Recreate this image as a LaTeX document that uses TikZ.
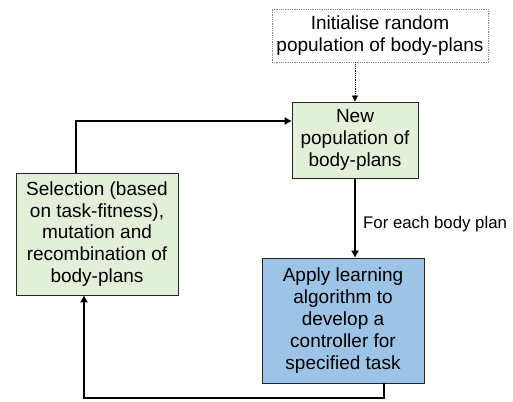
\documentclass[tikz,border=0pt]{standalone}
\usepackage{fontspec}
\setmainfont{Liberation Sans}
\usetikzlibrary{arrows.meta}
\definecolor{boxgreen}{HTML}{E2EFD9}
\definecolor{boxblue}{HTML}{9DC3E6}
\definecolor{dotgrey}{HTML}{8C8C8C}
\tikzset{
  boxtext/.style={align=center, font=\fontsize{19}{21.8}\selectfont, inner sep=0pt},
  greenbox/.style={boxtext, draw=black!85, line width=0.9pt, fill=boxgreen},
  bluebox/.style={boxtext, draw=black!85, line width=0.9pt, fill=boxblue},
  initbox/.style={boxtext, draw=dotgrey, densely dotted, line width=0.8pt},
  mainarrow/.style={line width=2.8pt, -{Triangle[length=7pt,width=7pt]}},
  thinarrow/.style={line width=0.8pt, densely dotted, -{Triangle[length=6pt,width=6pt]}},
  lbl/.style={font=\fontsize{16.8}{19}\selectfont, inner sep=0pt, anchor=west}
}
\begin{document}
\begin{tikzpicture}[x=1pt,y=-1pt]
\useasboundingbox (0,0) rectangle (513,401);
\node[initbox, minimum width=216pt, minimum height=53pt] (init) at (380,35.5)
  {Initialise random\\population of body-plans};
\node[greenbox, minimum width=126pt, minimum height=76pt] (newpop) at (355,140)
  {New\\population of\\body-plans};
\node[greenbox, minimum width=162pt, minimum height=122pt] (sel) at (97,234)
  {Selection (based\\on task-fitness),\\mutation and\\recombination of\\body-plans};
\node[bluebox, minimum width=162pt, minimum height=125pt] (apply) at (343,320.5)
  {Apply learning\\algorithm to\\develop a\\controller for\\specified task};
\node[lbl] (lab) at (363,224) {For each body plan};
\coordinate (c1) at (76,121);
\coordinate (c2) at (384,398);
\coordinate (c3) at (84,398);
\draw[thinarrow] (init.south -| newpop.north) -- (newpop.north);
\draw[mainarrow] (newpop.south) -- (newpop.south |- apply.north);
\draw[mainarrow] (c1 |- sel.north) -- (c1) -- (c1 -| newpop.west);
\draw[mainarrow] (c2 |- apply.south) -- (c2) -- (c3) -- (c3 |- sel.south);
\end{tikzpicture}
\end{document}
